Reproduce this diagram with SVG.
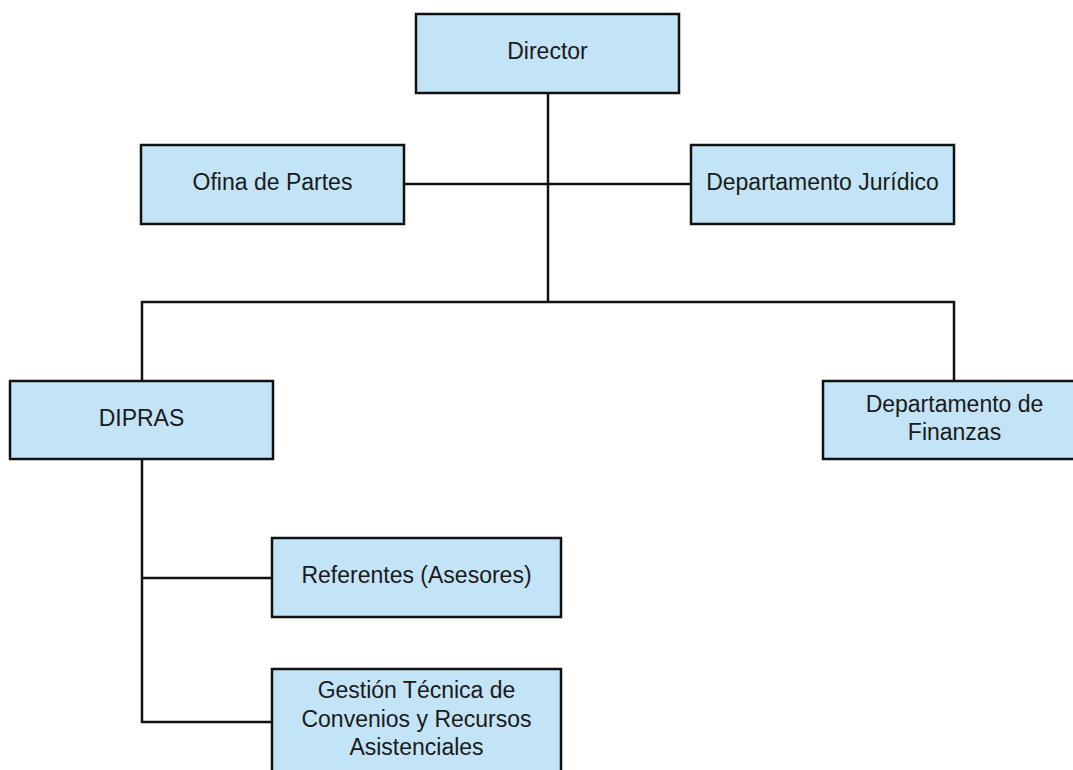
<svg xmlns="http://www.w3.org/2000/svg" width="1073" height="770" viewBox="0 0 1073 770">
<style>
.box{fill:#c3e4f6;stroke:#111;stroke-width:2.5}
.t{font-family:"Liberation Sans",Arial,sans-serif;font-size:23px;fill:#1a1a1a;text-anchor:middle}
.c{fill:none;stroke:#111;stroke-width:2.5}
</style>
<rect width="1073" height="770" fill="#fff"/>
<g id="connectors">
<path class="c" d="M548,93 V302"/>
<path class="c" d="M404,184 H691"/>
<path class="c" d="M142,381 V302 H954 V381"/>
<path class="c" d="M142,459 V722 H272"/>
<path class="c" d="M142,578 H272"/>
</g>
<g id="director"><rect class="box" x="416" y="14" width="263" height="79"/><text class="t" x="547.5" y="59">Director</text></g>
<g id="ofina"><rect class="box" x="141" y="145" width="263" height="79"/><text class="t" x="272.5" y="190">Ofina de Partes</text></g>
<g id="juridico"><rect class="box" x="691" y="145" width="263" height="79"/><text class="t" x="822.5" y="190">Departamento Jurídico</text></g>
<g id="dipras"><rect class="box" x="10" y="381" width="263" height="78"/><text class="t" x="141.5" y="426">DIPRAS</text></g>
<g id="finanzas"><rect class="box" x="823" y="381" width="263" height="78"/><text class="t" x="954.5" y="412">Departamento de</text><text class="t" x="954.5" y="440">Finanzas</text></g>
<g id="referentes"><rect class="box" x="272" y="538" width="289" height="79"/><text class="t" x="416.5" y="583">Referentes (Asesores)</text></g>
<g id="gestion"><rect class="box" x="272" y="669" width="289" height="120"/><text class="t" x="416.5" y="698">Gestión Técnica de</text><text class="t" x="416.5" y="727">Convenios y Recursos</text><text class="t" x="416.5" y="755">Asistenciales</text></g>
</svg>
